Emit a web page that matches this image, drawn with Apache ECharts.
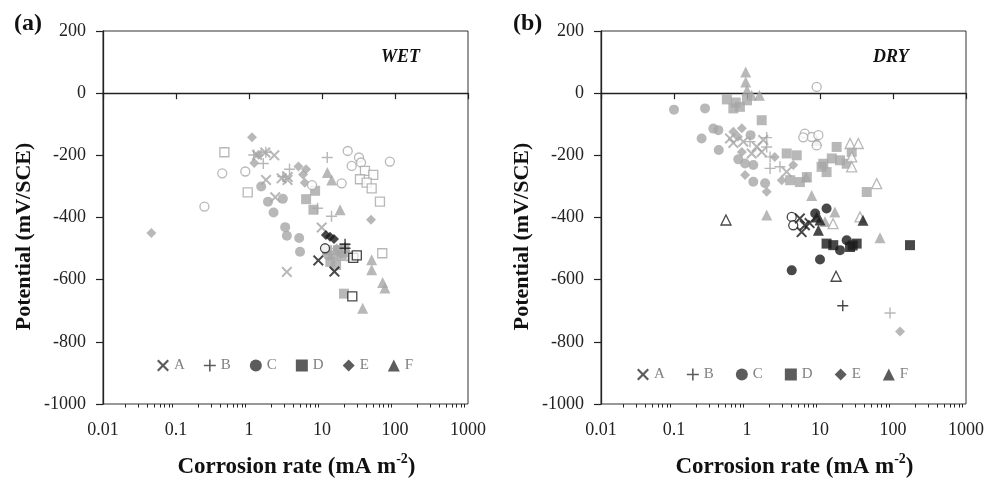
<!DOCTYPE html>
<html>
<head>
<meta charset="utf-8">
<script src="https://cdn.jsdelivr.net/npm/echarts@6/dist/echarts.min.js"></script>
<style>html,body{margin:0;padding:0;background:#fff}#c{width:998px;height:478px}</style>
</head>
<body>
<div id="c"></div>
<script>
// ---------- DATA (corrosion rate mA m-2, potential mV/SCE) ----------
const categories = ['A', 'B', 'C', 'D', 'E', 'F'];
const xTickLabels = [0.01, 0.1, 1, 10, 100, 1000];
const yTickLabels = [-1000, -800, -600, -400, -200, 0, 200];

// WET panel
const wetA_gray = [[1.29,-199],[1.67,-191],[2.22,-200],[1.71,-279],[2.8,-274],[3.4,-270],[3.37,-279],[2.29,-335],[9.9,-432],[3.3,-575]];
const wetA_black = [[8.9,-538],[14.8,-574]];
const wetB_gray = [[1.16,-199],[1.57,-226],[1.7,-190],[2.91,-268],[3.59,-245],[11.8,-207],[8.7,-370],[13.5,-396]];
const wetB_black = [[20.7,-486],[20.7,-499]];
const wetC_gray = [[1.47,-300],[1.82,-349],[2.91,-340],[2.17,-384],[3.13,-431],[3.3,-459],[4.87,-466],[5.0,-510],[12.2,-522]];
const wetC_grayOpen = [[0.245,-365],[0.43,-258],[0.89,-252],[22.5,-186],[25.5,-234],[32.1,-207],[34.2,-223],[85,-220],[18.6,-290],[7.3,-296]];
const wetC_blackOpen = [[11.0,-499]];
const wetD_gray = [[8.05,-314],[6.06,-341],[7.63,-375],[20.0,-645],[11.7,-505],[14.1,-521],[16.6,-505],[13.0,-543],[15.6,-553],[18.6,-524],[20.4,-498]];
const wetD_grayOpen = [[0.46,-190],[0.96,-319],[38.8,-250],[50.4,-263],[33.1,-277],[40.9,-288],[47.9,-306],[62.2,-349],[66.9,-515]];
const wetD_blackOpen = [[26.8,-530],[30,-522],[26.0,-654]];
const wetE_gray = [[0.046,-450],[1.10,-142],[1.35,-198],[1.18,-225],[4.76,-236],[6.05,-245],[5.5,-262],[5.8,-288],[46.9,-407],[15.9,-500],[18,-518]];
const wetE_black = [[11.3,-456],[12.9,-462],[14.6,-469]];
const wetF_gray = [[11.85,-255],[13.6,-279],[17.7,-375],[47.9,-536],[47.9,-568],[67.7,-609],[72.8,-627],[36.1,-692],[22.6,-511],[25.4,-524]];

// DRY panel
const dryA_gray = [[0.585,-146],[0.65,-160],[0.89,-156],[1.36,-172],[1.59,-189],[1.67,-151],[1.16,-194],[3.49,-253]];
const dryA_black = [[5.3,-403],[6.2,-425],[5.6,-447],[7.2,-418]];
const dryB_gray = [[1.86,-143],[1.86,-173],[2.07,-205],[2.07,-242],[2.83,-237],[1.1,-156],[91,-707]];
const dryB_black = [[20.5,-684]];
const dryC_gray = [[0.1,-53],[0.266,-49],[0.239,-146],[0.346,-114],[0.405,-119],[0.41,-183],[0.76,-213],[0.94,-226],[1.22,-231],[1.12,-135],[1.22,-285],[1.77,-290]];
const dryC_grayOpen = [[9.0,20],[6.2,-130],[7.7,-141],[9.5,-135],[9.0,-168],[5.9,-142]];
const dryC_black = [[4.1,-570],[8.6,-387],[12.3,-371],[10.0,-535],[23.2,-473],[18.8,-505]];
const dryC_blackOpen = [[4.1,-398],[4.3,-425]];
const dryD_gray = [[0.53,-20],[0.65,-49],[0.80,-44],[1.0,-23],[0.7,-30],[1.59,-87],[3.5,-194],[4.8,-200],[3.9,-280],[5.3,-286],[6.6,-270],[11.1,-227],[14.5,-210],[18.8,-216],[23.2,-227],[12.3,-254],[16.9,-173],[27.2,-189],[43.7,-318],[10.5,-237]];
const dryD_black = [[12.3,-484],[15.2,-489],[31.8,-484],[25.8,-495],[171,-489],[28,-490]];
const dryE_gray = [[0.65,-124],[0.85,-113],[0.75,-140],[0.94,-263],[0.85,-189],[1.86,-317],[2.99,-280],[4.3,-231],[2.4,-205],[125,-767]];
const dryF_gray = [[0.96,68],[0.96,36],[1.0,9],[1.16,-7],[1.48,-7],[7.7,-329],[1.86,-392],[9.0,-152],[16.0,-382],[66.4,-465],[11.7,-413],[6.5,-270]];
const dryF_grayOpen = [[25.8,-162],[33.5,-162],[27.2,-205],[27.2,-237],[59.8,-291],[35.3,-398],[15.1,-420]];
const dryF_black = [[9.0,-398],[10,-408],[9.5,-441],[38.8,-409]];
const dryF_blackOpen = [[0.515,-408],[16.6,-589]];

// ---------- STYLE ----------
const GRAY = '#a6a6a6', BLACK = '#1a1a1a', LEG = '#333333';
const FONT = 'Liberation Serif';
const CROSS = 'path://M0,1.3L1.3,0L5,3.7L8.7,0L10,1.3L6.3,5L10,8.7L8.7,10L5,6.3L1.3,10L0,8.7L3.7,5Z';
const PLUS = 'path://M4.35,0H5.65V4.35H10V5.65H5.65V10H4.35V5.65H0V4.35H4.35Z';
const SYM = {A: CROSS, B: PLUS, C: 'circle', D: 'rect', E: 'diamond', F: 'triangle'};
const SIZE = {A: 11, B: 11, C: 10, D: 10, E: 10, F: 11};

function sc(name, data, g, color, open) {
  return {
    type: 'scatter', name: name, data: data, xAxisIndex: g, yAxisIndex: g,
    symbol: SYM[name], symbolSize: open ? SIZE[name] - 1 : SIZE[name],
    itemStyle: open ? {color: '#fff', borderColor: color, borderWidth: 1.3}
                    : {color: color, borderWidth: 0},
    emphasis: {disabled: true}, animation: false
  };
}

const series = [
  sc('E', wetE_gray, 0, GRAY), sc('C', wetC_gray, 0, GRAY), sc('D', wetD_gray, 0, GRAY),
  sc('F', wetF_gray, 0, GRAY), sc('C', wetC_grayOpen, 0, GRAY, true), sc('D', wetD_grayOpen, 0, GRAY, true),
  sc('A', wetA_gray, 0, GRAY), sc('B', wetB_gray, 0, GRAY),
  sc('E', wetE_black, 0, BLACK), sc('C', wetC_blackOpen, 0, BLACK, true), sc('D', wetD_blackOpen, 0, BLACK, true),
  sc('A', wetA_black, 0, BLACK), sc('B', wetB_black, 0, BLACK),

  sc('C', dryC_gray, 1, GRAY), sc('D', dryD_gray, 1, GRAY), sc('E', dryE_gray, 1, GRAY),
  sc('F', dryF_gray, 1, GRAY), sc('A', dryA_gray, 1, GRAY), sc('B', dryB_gray, 1, GRAY),
  sc('C', dryC_grayOpen, 1, GRAY, true), sc('F', dryF_grayOpen, 1, GRAY, true),
  sc('C', dryC_black, 1, BLACK), sc('D', dryD_black, 1, BLACK), sc('F', dryF_black, 1, BLACK),
  sc('C', dryC_blackOpen, 1, BLACK, true), sc('F', dryF_blackOpen, 1, BLACK, true),
  sc('A', dryA_black, 1, BLACK), sc('B', dryB_black, 1, BLACK)
];

const minorTicks = [];
[0.01, 0.1, 1, 10, 100].forEach(d => { for (let k = 2; k <= 9; k++) minorTicks.push(+(d * k).toPrecision(3)); });

const PLOT_H = 373;
const grids = [
  {left: 103, top: 31, width: 365, height: PLOT_H, show: true, borderColor: '#333', borderWidth: 1, containLabel: false, outerBoundsMode: 'none'},
  {left: 601, top: 31, width: 365, height: PLOT_H, show: true, borderColor: '#333', borderWidth: 1, containLabel: false, outerBoundsMode: 'none'}
];

function mainX(g) {
  return {
    type: 'log', logBase: 10, gridIndex: g, min: 0.01, max: 1000, position: 'bottom',
    axisLine: {lineStyle: {color: '#222', width: 1.3}},
    axisTick: {inside: false, length: 6, lineStyle: {color: '#222', width: 1.2}, customValues: xTickLabels},
    axisLabel: {customValues: xTickLabels, formatter: v => String(v), margin: 17, fontFamily: FONT, fontSize: 18, color: '#222'},
    splitLine: {show: false},
    name: 'Corrosion rate (mA m{sup|-2})', nameLocation: 'middle', nameGap: 48,
    nameTextStyle: {fontFamily: FONT, fontWeight: 'bold', fontSize: 23, color: '#111', lineHeight: 30,
      padding: [0, 0, 0, 22],
      rich: {sup: {fontFamily: FONT, fontWeight: 'bold', fontSize: 14, color: '#111', verticalAlign: 'top', lineHeight: 14}}}
  };
}
// minor log ticks (2..9 in every decade), drawn by a label-less companion axis lying on the bottom edge
function minorX(g) {
  return {
    type: 'log', logBase: 10, gridIndex: g, min: 0.01, max: 1000, position: 'top', offset: -PLOT_H,
    axisLine: {show: false},
    axisTick: {show: true, inside: true, length: 3.5, lineStyle: {color: '#222', width: 1}, customValues: minorTicks},
    axisLabel: {show: false, customValues: minorTicks}, splitLine: {show: false}
  };
}
function mainY(g) {
  return {
    type: 'value', gridIndex: g, min: -1000, max: 200, interval: 200,
    axisLine: {show: true, lineStyle: {color: '#222', width: 1.3}},
    axisTick: {show: true, inside: false, length: 7, lineStyle: {color: '#222', width: 1.2}},
    axisLabel: {formatter: v => String(v), margin: 17, fontFamily: FONT, fontSize: 18, color: '#222'},
    splitLine: {show: false},
    name: 'Potential (mV/SCE)', nameLocation: 'middle', nameGap: 68,
    nameTextStyle: {fontFamily: FONT, fontWeight: 'bold', fontSize: 22, color: '#111', lineHeight: 22,
      padding: [0, 38, 0, 0]}
  };
}

function legendData() {
  return categories.map(c => ({name: c, icon: SYM[c], itemStyle: {color: LEG, borderWidth: 0}}));
}
const legendText = {fontFamily: FONT, fontSize: 15, color: '#808080'};

const option = {
  backgroundColor: '#fff',
  animation: false,
  grid: grids,
  xAxis: [mainX(0), mainX(1), minorX(0), minorX(1)],
  yAxis: [mainY(0), mainY(1)],
  legend: [
    {left: 157, top: 358, padding: 0, itemWidth: 12, itemHeight: 12, itemGap: 19, data: legendData(), textStyle: legendText, selectedMode: false},
    {left: 637, top: 367, padding: 0, itemWidth: 12, itemHeight: 12, itemGap: 22, data: legendData(), textStyle: legendText, selectedMode: false}
  ],
  title: [
    {text: '(a)', left: 14, top: 12, padding: 0, textStyle: {fontFamily: FONT, fontWeight: 'bold', fontSize: 24, color: '#111'}},
    {text: '(b)', left: 513, top: 12, padding: 0, textStyle: {fontFamily: FONT, fontWeight: 'bold', fontSize: 24, color: '#111'}},
    {text: 'WET', left: 381, top: 48, padding: 0, textStyle: {fontFamily: FONT, fontWeight: 'bold', fontStyle: 'italic', fontSize: 18, color: '#111'}},
    {text: 'DRY', left: 873, top: 48, padding: 0, textStyle: {fontFamily: FONT, fontWeight: 'bold', fontStyle: 'italic', fontSize: 18, color: '#111'}}
  ],
  series: series
};

const chart = echarts.init(document.getElementById('c'), null, {renderer: 'canvas'});
chart.setOption(option);
</script>
</body>
</html>
